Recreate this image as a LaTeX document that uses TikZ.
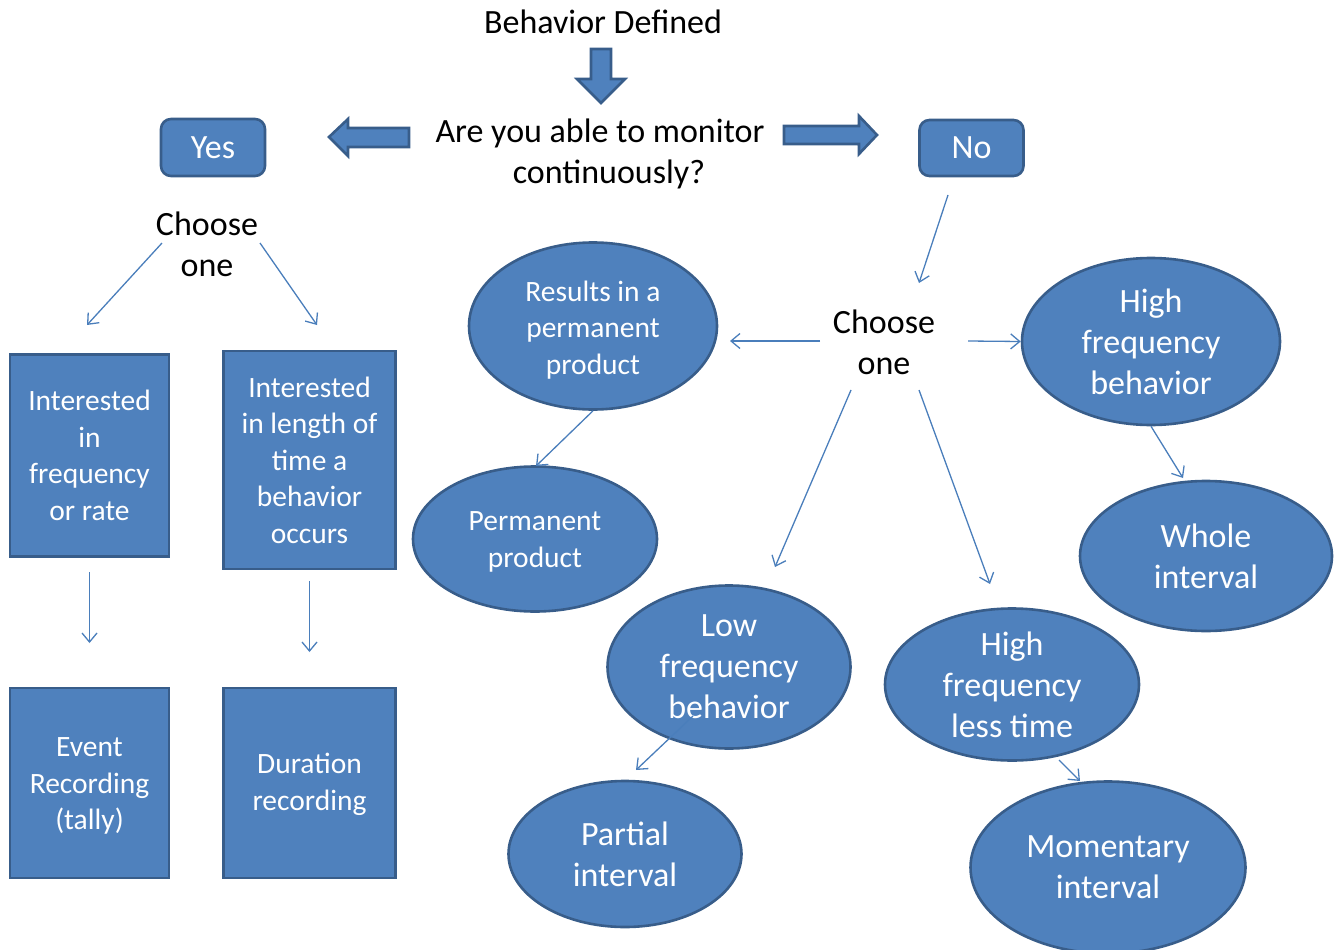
\documentclass[tikz,border=0pt]{standalone}
\usepackage{fontspec}
\setmainfont{Carlito}
\usetikzlibrary{shapes.geometric,arrows.meta}
\definecolor{fillblue}{HTML}{4F81BD}
\definecolor{edgeblue}{HTML}{385D8A}
\definecolor{lineblue}{HTML}{4A7EBB}
\newcommand{\bigtxt}{\fontsize{34}{41}\selectfont}
\newcommand{\smalltxt}{\fontsize{29.5}{36.5}\selectfont}
\tikzset{
  blk/.style={fill=fillblue,draw=edgeblue,line width=2.6pt},
  ell/.style={blk,ellipse,inner sep=0pt,text=white,align=center},
  sqbox/.style={blk,rectangle,inner sep=0pt,text=white,align=center,font=\smalltxt},
  rbox/.style={blk,rectangle,rounded corners=10pt,inner sep=0pt,text=white,font=\bigtxt},
  plain/.style={align=center,inner sep=0pt,text=black,font=\bigtxt},
  intxt/.style={align=center,inner sep=0pt,text=white,font=\smalltxt},
  conn/.style={draw=lineblue,line width=1.3pt,-{Straight Barb[length=9pt,width=15pt,line width=1.3pt]}}
}
\begin{document}
\begin{tikzpicture}[x=1pt,y=-1pt]
\useasboundingbox (0,0) rectangle (1336,950);

% texts
\node[plain] (beh) at (603,22) {Behavior Defined};
\node[plain] (q) at (600,154) {Are you able to monitor\\\hspace*{18pt}continuously?};
\node[plain] (chl) at (207,244) {Choose\\one};
\node[plain] (chr) at (884,342) {Choose\\one};

% block arrows
\draw[blk,line join=miter] (591,49) -- (611,49) -- (611,79) -- (625,79) -- (601,103) -- (577,79) -- (591,79) -- cycle;
\draw[blk,line join=miter] (409,128) -- (409,147) -- (348,147) -- (348,156) -- (329,137) -- (348,119) -- (348,128) -- cycle;
\draw[blk,line join=miter] (784,126) -- (859,126) -- (859,116) -- (877,135) -- (859,154) -- (859,144) -- (784,144) -- cycle;

% yes / no
\node[rbox,minimum width=104pt,minimum height=57pt] (yes) at (213,147.5) {Yes};
\node[rbox,minimum width=104pt,minimum height=56pt] (no) at (971.5,148) {No};

% left boxes
\node[sqbox,minimum width=159pt,minimum height=202pt] (boxa) at (89.5,455.5) {Interested\\in\\frequency\\or rate};
\node[sqbox,minimum width=172pt,minimum height=218pt] (boxb) at (309.5,460) {Interested\\in length of\\time a\\behavior\\occurs};
\node[sqbox,minimum width=159pt,minimum height=190pt] (boxc) at (89.5,783) {};
\node[intxt] (boxct) at (89.5,786) {Event\\Recording\\(tally)};
\node[sqbox,minimum width=172pt,minimum height=190pt] (boxd) at (309.5,783) {};
\node[intxt] (boxdt) at (309.5,784.5) {Duration\\recording};

% ellipses
\node[ell,minimum width=248pt,minimum height=167pt] (res) at (593,326) {};
\node[intxt] (rest) at (593,330) {Results in a\\permanent\\product};
\node[ell,minimum width=244pt,minimum height=145pt] (pp) at (535,539) {};
\node[intxt] (ppt) at (535,542) {Permanent\\product};
\node[ell,font=\bigtxt,minimum width=258pt,minimum height=167pt] (hfb) at (1151,341.5) {High\\frequency\\behavior};
\node[ell,font=\bigtxt,minimum width=252pt,minimum height=150pt] (whole) at (1206,556) {Whole\\interval};
\node[ell,font=\bigtxt,minimum width=243pt,minimum height=163pt] (lfb) at (729,667) {Low\\frequency\\behavior};
\node[ell,font=\bigtxt,minimum width=254pt,minimum height=152pt] (hflt) at (1012,684.5) {High\\frequency\\less time};
\node[ell,font=\bigtxt,minimum width=233pt,minimum height=146pt] (part) at (625,854) {Partial\\interval};
\node[ell,font=\bigtxt,minimum width=275pt,minimum height=172pt] (mom) at (1108,867.5) {Momentary\\interval};

% connector end points
\coordinate (l1s) at (162,243); \coordinate (l1e) at (87,325);
\coordinate (l2s) at (260,243); \coordinate (l2e) at (317,325);
\coordinate (a1s) at (89.5,572); \coordinate (a1e) at (89.5,643);
\coordinate (b1s) at (309.5,581); \coordinate (b1e) at (309.5,652);
\coordinate (n1s) at (948,195); \coordinate (n1e) at (919,283);
\coordinate (r1s) at (820,341); \coordinate (r1e) at (730,341);
\coordinate (r2s) at (968,341);
\coordinate (r3s) at (851,390); \coordinate (r3e) at (775,567);
\coordinate (r4s) at (919,390); \coordinate (r4e) at (990,584);
\coordinate (pe) at (536,466);
\coordinate (we) at (1183,478);
\coordinate (ls) at (693,716); \coordinate (le) at (636,770);
\coordinate (ms) at (1059,760); \coordinate (me) at (1080,781);

% connectors
\draw[conn] (l1s) -- (l1e);
\draw[conn] (l2s) -- (l2e);
\draw[conn] (a1s) -- (a1e);
\draw[conn] (b1s) -- (b1e);
\draw[conn] (n1s) -- (n1e);
\draw[conn] (r1s) -- (r1e);
\draw[conn] (r2s) -- (hfb.west);
\draw[conn] (r3s) -- (r3e);
\draw[conn] (r4s) -- (r4e);
\draw[conn] (res.south) -- (pe);
\draw[conn] (hfb.south) -- (we);
\draw[conn] (ls) -- (le);
\draw[conn] (ms) -- (me);
\end{tikzpicture}
\end{document}
